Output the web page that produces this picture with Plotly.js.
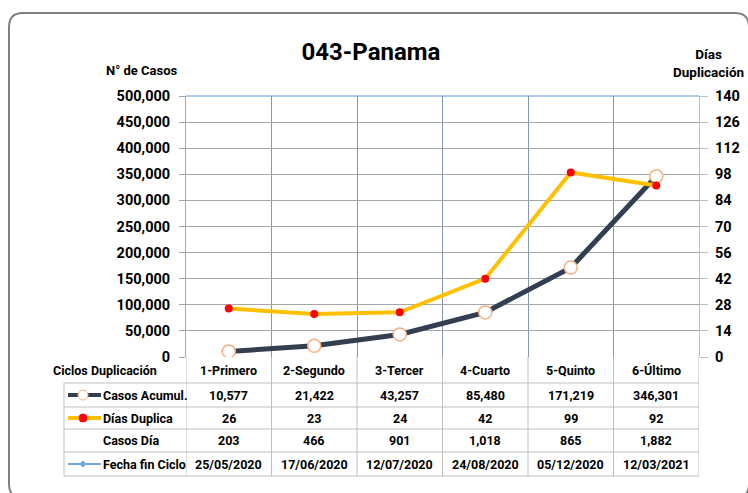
<!DOCTYPE html>
<html>
<head>
<meta charset="utf-8">
<script src="https://cdn.plot.ly/plotly-3.0.1.min.js"></script>
<style>
  html, body { margin: 0; padding: 0; background: #fff; }
  #chart { width: 748px; height: 493px; }
</style>
</head>
<body>
<div id="chart"></div>
<script>
const categories = ["1-Primero", "2-Segundo", "3-Tercer", "4-Cuarto", "5-Quinto", "6-Último"];
const casosAcum = [10577, 21422, 43257, 85480, 171219, 346301];
const diasDup = [26, 23, 24, 42, 99, 92];
const casosDia = [203, 466, 901, 1018, 865, 1882];
const fechaFin = ["25/05/2020", "17/06/2020", "12/07/2020", "24/08/2020", "05/12/2020", "12/03/2021"];
const rowNames = ["Casos Acumul.", "Días Duplica", "Casos Día", "Fecha fin Ciclo"];

const FONT = "Roboto, Lato, sans-serif";
const TS = 12.5; // table text size
const W = 748, H = 493, M = { l: 186, r: 49, t: 96, b: 136 };
const pw = W - M.l - M.r, ph = H - M.t - M.b;
// pixel -> paper helpers (used only for table/frame decoration)
const px = x => (x - M.l) / pw;
const py = y => (H - M.b - y) / ph;
const fmt = v => v.toLocaleString("en-US");
const f = size => ({ family: FONT, size, color: "#000", weight: "bold" });

const traces = [
    {
        x: categories, y: casosAcum, name: "Casos Acumul.", type: "scatter", mode: "lines+markers",
        line: { color: "#333f50", width: 5 },
        marker: { size: 13, color: "#fff", line: { color: "#f4b183", width: 1.5 } },
        hoverinfo: "skip"
    },
    {
        x: categories, y: diasDup, name: "Días Duplica", type: "scatter", mode: "lines+markers", yaxis: "y2",
        line: { color: "#ffc000", width: 4 },
        marker: { size: 8, color: "#ff0000" },
        hoverinfo: "skip"
    }
];

const shapes = [], annotations = [];
const tableTop = py(383), tableBot = py(476);
const rowLines = [383, 407, 429, 452, 476];
rowLines.forEach(y => shapes.push({ type: "line", xref: "paper", yref: "paper", x0: px(64), x1: 1, y0: py(y), y1: py(y), line: { color: "#bfbfbf", width: 1 } }));
shapes.push({ type: "line", xref: "paper", yref: "paper", x0: px(64), x1: px(64), y0: tableTop, y1: tableBot, line: { color: "#bfbfbf", width: 1 } });
for (let i = 0; i <= categories.length; i++) {
    shapes.push({ type: "line", xref: "x", yref: "paper", x0: i - 0.5, x1: i - 0.5, y0: 0, y1: tableBot, line: { color: "#bfbfbf", width: 1 } });
}
// top border of plot
shapes.push({ type: "line", xref: "paper", yref: "paper", x0: 0, x1: 1, y0: 1, y1: 1, line: { color: "#5b9bd5", width: 1 } });

// legend keys in the table
const rowY = [395, 418, 440, 464];
const key = (y, color, w) => shapes.push({ type: "line", xref: "paper", yref: "paper", x0: px(68), x1: px(101), y0: py(y), y1: py(y), line: { color, width: w } });
const dot = (y, r, fill, edge) => shapes.push({ type: "circle", xref: "paper", yref: "paper", x0: px(83 - r), x1: px(83 + r), y0: py(y - r), y1: py(y + r), fillcolor: fill, line: { color: edge, width: 1 } });
key(rowY[0], "#333f50", 4); dot(rowY[0], 5, "#fff", "#f4b183");
key(rowY[1], "#ffc000", 4); dot(rowY[1], 4, "#ff0000", "#ff0000");
key(rowY[3], "#6fa8dc", 2);
shapes.push({ type: "path", xref: "paper", yref: "paper",
    path: `M ${px(80)},${py(rowY[3])} L ${px(83)},${py(rowY[3] - 3)} L ${px(86)},${py(rowY[3])} L ${px(83)},${py(rowY[3] + 3)} Z`,
    fillcolor: "#6fa8dc", line: { color: "#6fa8dc", width: 1 } });

// outer rounded frame
const fx0 = 9, fy0 = 13, fx1 = 749, fy1 = 498, r = 14;
shapes.push({ type: "path", xref: "paper", yref: "paper", line: { color: "#7f7f7f", width: 2 },
    path: `M ${px(fx0)},${py(fy1 - r)} L ${px(fx0)},${py(fy0 + r)} Q ${px(fx0)},${py(fy0)} ${px(fx0 + r)},${py(fy0)} ` +
          `L ${px(fx1 - r)},${py(fy0)} Q ${px(fx1)},${py(fy0)} ${px(fx1)},${py(fy0 + r)} L ${px(fx1)},${py(fy1 - r)} ` +
          `Q ${px(fx1)},${py(fy1)} ${px(fx1 - r)},${py(fy1)} L ${px(fx0 + r)},${py(fy1)} Q ${px(fx0)},${py(fy1)} ${px(fx0)},${py(fy1 - r)}` });

const ann = (x, y, text, size, opts) => annotations.push(Object.assign({ x, y, xref: "paper", yref: "paper", showarrow: false, text,
    font: f(size), xanchor: "center", yanchor: "middle" }, opts || {}));

ann(px(51), py(370), "Ciclos Duplicación", TS, { xanchor: "left" });
rowNames.forEach((n, i) => ann(px(101), py(rowY[i]), n, TS, { xanchor: "left" }));
const rows = [casosAcum.map(fmt), diasDup.map(String), casosDia.map(fmt), fechaFin];
categories.forEach((c, j) => {
    ann(c, py(370), c, TS, { xref: "x" });
    rows.forEach((row, i) => ann(c, py(rowY[i]), row[j], TS, { xref: "x" }));
});
ann(px(142), py(70), "N° de Casos", 13);
ann(px(708), py(63), "Días<br>Duplicación", 13.5);

const layout = {
    width: W, height: H, margin: M,
    paper_bgcolor: "#fff", plot_bgcolor: "#fff", showlegend: false,
    title: { text: "043-Panama", x: 371 / W, xanchor: "center", y: 1 - 52 / H, yanchor: "middle", font: f(24) },
    xaxis: { type: "category", range: [-0.5, categories.length - 0.5], tickson: "boundaries", showgrid: true,
        gridcolor: "#8497b0", gridwidth: 1, showticklabels: false, ticks: "", zeroline: false, showline: false, fixedrange: true },
    yaxis: { range: [0, 500000], dtick: 50000, tickformat: ",", gridcolor: "#a6a6a6", zeroline: false,
        showline: true, linecolor: "#a6a6a6", ticks: "outside", ticklen: 6, tickcolor: "#a6a6a6", ticklabelstandoff: 6,
        tickfont: f(14.5) },
    yaxis2: { range: [0, 140], dtick: 14, overlaying: "y", side: "right", showgrid: false, zeroline: false,
        showline: true, linecolor: "#bfbfbf", ticks: "outside", ticklen: 8, tickcolor: "#bfbfbf", ticklabelstandoff: 4,
        tickfont: f(14.5) },
    shapes, annotations
};

Plotly.newPlot("chart", traces, layout, { displayModeBar: false, staticPlot: true });
</script>
</body>
</html>
